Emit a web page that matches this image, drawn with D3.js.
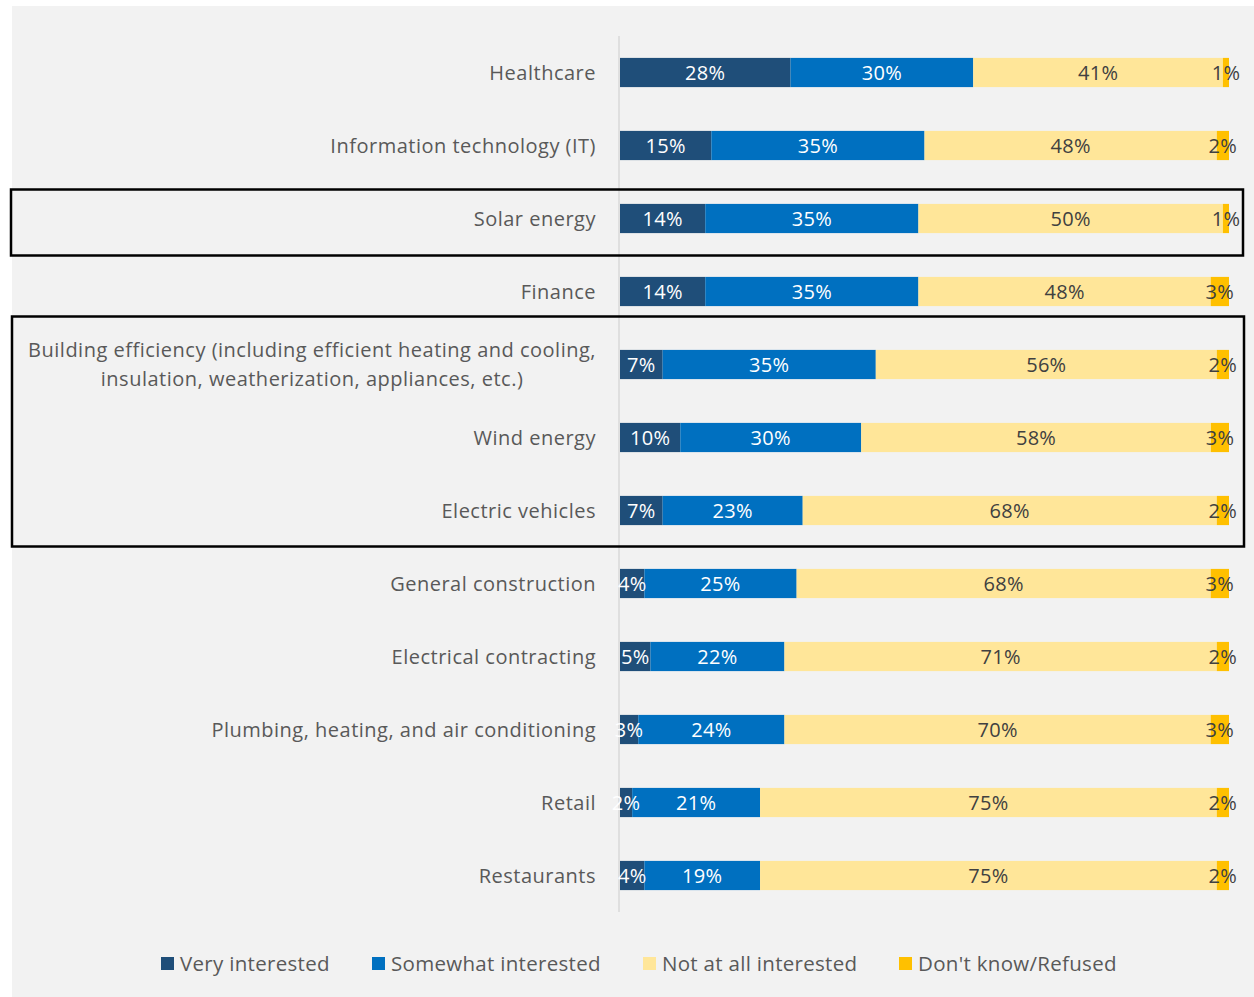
<!DOCTYPE html>
<html>
<head>
<meta charset="utf-8">
<script src="https://cdn.jsdelivr.net/npm/d3@7"></script>
<style>
  html, body { margin: 0; padding: 0; background: #ffffff; }
  svg { display: block; }
  text { font-family: "Open Sans", "Noto Sans", sans-serif; }
</style>
</head>
<body>
<script>
const categories = [
  "Healthcare",
  "Information technology (IT)",
  "Solar energy",
  "Finance",
  "Building efficiency (including efficient heating and cooling,|insulation, weatherization, appliances, etc.)",
  "Wind energy",
  "Electric vehicles",
  "General construction",
  "Electrical contracting",
  "Plumbing, heating, and air conditioning",
  "Retail",
  "Restaurants"
];
const seriesNames = ["Very interested", "Somewhat interested", "Not at all interested", "Don't know/Refused"];
const veryInterested     = [28, 15, 14, 14, 7, 10, 7, 4, 5, 3, 2, 4];
const somewhatInterested = [30, 35, 35, 35, 35, 30, 23, 25, 22, 24, 21, 19];
const notInterested      = [41, 48, 50, 48, 56, 58, 68, 68, 71, 70, 75, 75];
const dontKnow           = [1, 2, 1, 3, 2, 3, 2, 3, 2, 3, 2, 2];
const colors = ["#1f4e79", "#0070c0", "#ffe699", "#ffc000"];
const labelColors = ["#ffffff", "#ffffff", "#404040", "#404040"];

const W = 1254, H = 997;
const svg = d3.select("body").append("svg").attr("width", W).attr("height", H);

svg.append("rect").attr("x", 12).attr("y", 6).attr("width", W - 12).attr("height", H - 6).attr("fill", "#f2f2f2");

const rows = categories.map((c, i) => ({
  cat: c,
  [seriesNames[0]]: veryInterested[i],
  [seriesNames[1]]: somewhatInterested[i],
  [seriesNames[2]]: notInterested[i],
  [seriesNames[3]]: dontKnow[i]
}));

const stack = d3.stack().keys(seriesNames).offset(d3.stackOffsetExpand);
const stacked = stack(rows);

const x = d3.scaleLinear().domain([0, 1]).range([620, 1229]);
const y = d3.scaleBand().domain(categories).range([36, 912]).paddingInner(0.6).paddingOuter(0.3);

// axis line
svg.append("line").attr("x1", 619).attr("x2", 619).attr("y1", 36).attr("y2", 912)
  .attr("stroke", "#d9d9d9").attr("stroke-width", 1.5);

const g = svg.append("g");
stacked.forEach((layer, si) => {
  g.append("g").selectAll("rect").data(layer).join("rect")
    .attr("x", d => x(d[0]))
    .attr("y", d => y(d.data.cat))
    .attr("width", d => x(d[1]) - x(d[0]))
    .attr("height", y.bandwidth())
    .attr("fill", colors[si]);
});
stacked.forEach((layer, si) => {
  g.append("g").selectAll("text").data(layer).join("text")
    .attr("x", d => (x(d[0]) + x(d[1])) / 2)
    .attr("y", d => y(d.data.cat) + y.bandwidth() / 2)
    .attr("dy", "0.36em")
    .attr("text-anchor", "middle")
    .attr("font-size", 20)
    .attr("letter-spacing", 0.3)
    .attr("fill", labelColors[si])
    .text(d => d.data[seriesNames[si]] + "%");
});

// category labels
const lab = svg.append("g");
categories.forEach(c => {
  const lines = c.split("|");
  const cy = y(c) + y.bandwidth() / 2;
  if (lines.length === 1) {
    lab.append("text").attr("x", 596).attr("y", cy).attr("dy", "0.35em")
      .attr("text-anchor", "end").attr("font-size", 20).attr("letter-spacing", 0.5)
      .attr("fill", "#595959").text(c);
  } else {
    const t = lab.append("text").attr("font-size", 20).attr("letter-spacing", 0.5).attr("fill", "#595959");
    lines.forEach((ln, i) => {
      t.append("tspan").attr("x", 0).attr("y", cy - 15 + i * 29).attr("dy", "0.35em").text(ln);
    });
    const maxW = d3.max(t.selectAll("tspan").nodes(), n => n.getComputedTextLength());
    t.selectAll("tspan").attr("x", 596 - maxW / 2).attr("text-anchor", "middle");
  }
});

// highlight boxes
const boxes = svg.append("g");
boxes.append("rect")
  .attr("x", 11).attr("y", y("Solar energy") + y.bandwidth() / 2 - 29)
  .attr("width", 1232).attr("height", 66)
  .attr("fill", "none").attr("stroke", "#000").attr("stroke-width", 2.5);
boxes.append("rect")
  .attr("x", 12).attr("y", y(categories[4]) + y.bandwidth() / 2 - 48)
  .attr("width", 1232)
  .attr("height", (y("Electric vehicles") + y.bandwidth() / 2 + 36) - (y(categories[4]) + y.bandwidth() / 2 - 48))
  .attr("fill", "none").attr("stroke", "#000").attr("stroke-width", 2.5);

// legend
const legendX = [161, 372, 643, 899];
const leg = svg.append("g");
seriesNames.forEach((s, i) => {
  leg.append("rect").attr("x", legendX[i]).attr("y", 957).attr("width", 13).attr("height", 13).attr("fill", colors[i]);
  leg.append("text").attr("x", legendX[i] + 19).attr("y", 964).attr("dy", "0.35em")
    .attr("font-size", 20.5).attr("letter-spacing", 0.3).attr("fill", "#595959").text(s);
});
</script>
</body>
</html>
